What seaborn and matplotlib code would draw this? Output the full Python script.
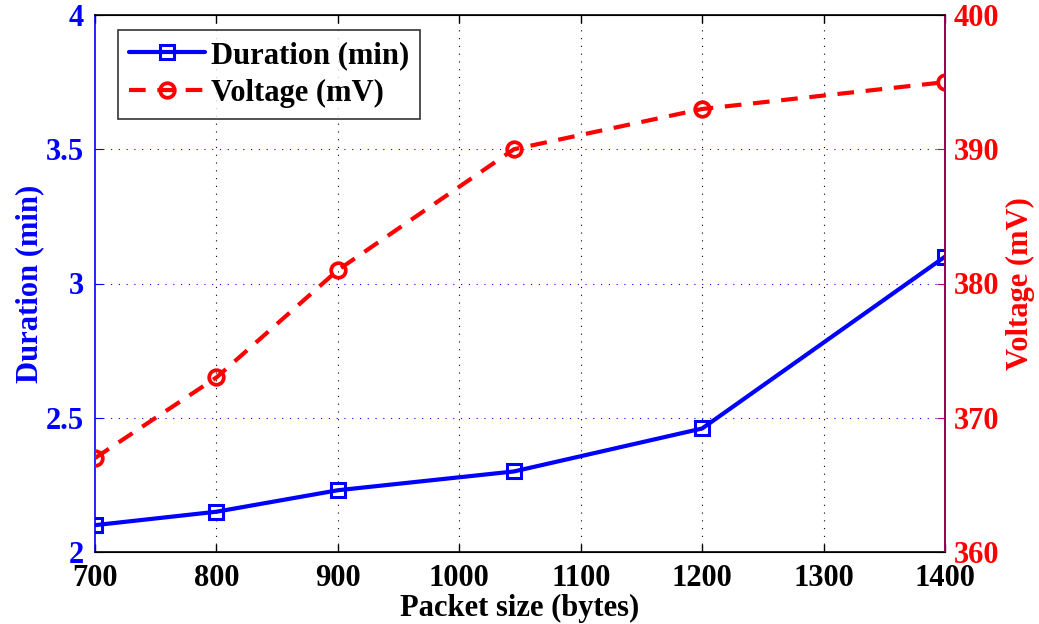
import matplotlib
matplotlib.use("Agg")
import matplotlib.pyplot as plt
import seaborn as sns
import pandas as pd
from matplotlib.lines import Line2D

packet_size = [700, 800, 900, 1045, 1200, 1400]
duration_min = [2.10, 2.15, 2.23, 2.30, 2.46, 3.10]
voltage_mv = [367, 373, 381, 390, 393, 395]
x_ticks = [700, 800, 900, 1000, 1100, 1200, 1300, 1400]
left_ticks = [2, 2.5, 3, 3.5, 4]
left_tick_labels = ["2", "2.5", "3", "3.5", "4"]
right_ticks = [360, 370, 380, 390, 400]

sns.set_style("white")
plt.rcParams['font.family'] = ['Liberation Serif', 'DejaVu Serif']
plt.rcParams['font.weight'] = 'bold'
plt.rcParams['axes.labelweight'] = 'bold'
plt.rcParams['text.color'] = 'black'
plt.rcParams['axes.labelcolor'] = 'black'
plt.rcParams['xtick.color'] = 'black'
plt.rcParams['ytick.color'] = 'black'

FS = 22

df = pd.DataFrame({"x": packet_size, "d": duration_min, "v": voltage_mv})

fig = plt.figure(figsize=(10.39, 6.24), dpi=100)
ax = fig.add_axes([95/1039, 1-552/624, 850/1039, 537/624])
ax2 = ax.twinx()

blue = "#0000ff"
red = "#ff0000"
DASH = (0, (4, 2.8))

sns.lineplot(data=df, x="x", y="d", ax=ax, color=blue, linewidth=3,
             marker="s", markersize=10, markerfacecolor="none",
             markeredgecolor=blue, markeredgewidth=2.2)
sns.lineplot(data=df, x="x", y="v", ax=ax2, color=red, linewidth=3,
             linestyle=DASH, marker="o", markersize=10.5,
             markerfacecolor="none", markeredgecolor=red, markeredgewidth=2.7)

ax.set_xlim(700, 1400)
ax.set_ylim(2, 4)
ax2.set_ylim(360, 400)
ax.set_xticks(x_ticks)
ax.set_xticklabels([str(t) for t in x_ticks], fontsize=FS, fontweight='bold', color='black')
ax.set_yticks(left_ticks)
ax.set_yticklabels(left_tick_labels, fontsize=FS, fontweight='bold', color=blue)
ax2.set_yticks(right_ticks)
ax2.set_yticklabels([str(t) for t in right_ticks], fontsize=FS, fontweight='bold', color=red)

ax.set_xlabel("Packet size (bytes)", fontsize=FS, fontweight='bold', color='black', labelpad=0)
ax.set_ylabel("Duration (min)", fontsize=FS, fontweight='bold', color=blue, labelpad=1)
ax2.set_ylabel("Voltage (mV)", fontsize=FS, fontweight='bold', color=red, labelpad=5)

# grid
for xv in x_ticks[1:-1]:
    ax.axvline(xv, color="black", linestyle=(0, (1, 6)), linewidth=0.8, zorder=0)
for yv in left_ticks[1:-1]:
    ax.axhline(yv, color=blue, linestyle=(0, (1, 6)), linewidth=0.8, zorder=0)

ax.tick_params(axis='x', direction='in', length=6, top=True, bottom=True, width=1, pad=9)
ax.tick_params(axis='y', direction='in', length=6, colors=blue, labelcolor=blue, pad=8)
ax2.tick_params(axis='y', direction='in', length=6, colors="#b0005a", labelcolor=red, pad=6)

for s in ax.spines.values():
    s.set_linewidth(1.2)
    s.set_color("black")
ax.spines['left'].set_color(blue)
ax2.spines['left'].set_visible(False)
ax2.spines['right'].set_color("#b0005a")
ax2.spines['right'].set_linewidth(1.2)
ax2.spines['top'].set_color("black")
ax2.spines['bottom'].set_color("black")

handles = [
    Line2D([], [], color=blue, linewidth=3, marker="s", markersize=10,
           markerfacecolor="none", markeredgecolor=blue, markeredgewidth=2.2),
    Line2D([], [], color=red, linewidth=3, linestyle=DASH, marker="o",
           markersize=10.5, markerfacecolor="none", markeredgecolor=red, markeredgewidth=2.7),
]
leg = ax2.legend(handles, ["Duration (min)", "Voltage (mV)"], loc="upper left",
                 bbox_to_anchor=(0.027, 0.972), prop={'size': FS, 'weight': 'bold'},
                 frameon=True, fancybox=False, edgecolor="black", handlelength=2.5,
                 borderpad=0.35, labelspacing=0.3, handletextpad=0.2, borderaxespad=0)
leg.get_frame().set_linewidth(1.2)
for t in leg.get_texts():
    t.set_color("black")

fig.savefig("out.png", dpi=100)
